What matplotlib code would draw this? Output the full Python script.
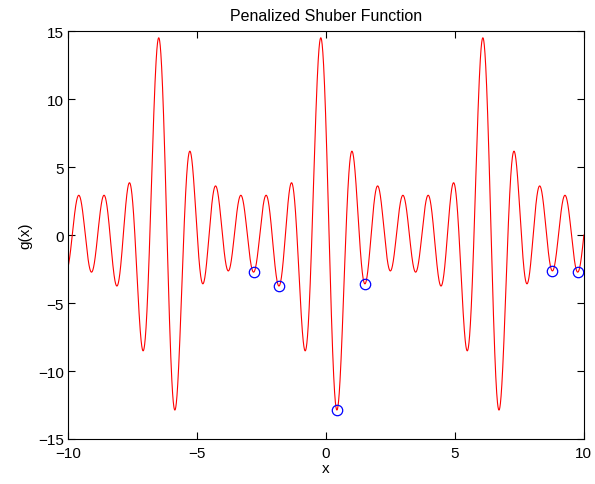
import numpy as np
import matplotlib
matplotlib.use("Agg")
import matplotlib.pyplot as plt

# Shubert-type curve parameters (amplitude i, frequency i+1, phase i), x shifted/mirrored as in figure
amps = [1, 2, 3, 4, 5]
freqs = [2, 3, 4, 5, 6]
phases = [1, 2, 3, 4, 5]
x_shift = 1.0

# located minima (blue circles), x positions
found_x = [-2.83, -1.86, 0.43, 1.51, 8.80, 9.77]

xticks = [-10, -5, 0, 5, 10]
yticks = [-15, -10, -5, 0, 5, 10, 15]


def g(x):
    x = np.asarray(x, dtype=float)
    return sum(a * np.cos(f * (x + x_shift) - p) for a, f, p in zip(amps, freqs, phases))


# snap circles to local minima near the read positions
def snap(x0):
    xs = np.linspace(x0 - 0.2, x0 + 0.2, 2001)
    ys = g(xs)
    return xs[np.argmin(ys)]


found_x = [snap(v) for v in found_x]
found_y = g(found_x)

plt.rcParams['font.family'] = ['Liberation Sans', 'DejaVu Sans']
fig = plt.figure(figsize=(5.95, 4.85), dpi=100)
ax = fig.add_axes([0.1143, 0.0928, 0.867, 0.841])

xx = np.linspace(-10, 10, 4001)
ax.plot(xx, g(xx), color='red', lw=0.8)
ax.plot(found_x, found_y, 'o', mfc='none', mec='blue', ms=7.5, mew=0.9)

ax.set_xlim(-10, 10)
ax.set_ylim(-15, 15)
ax.set_xticks(xticks)
ax.set_yticks(yticks)
ax.set_xticklabels(['\u221210', '\u22125', '0', '5', '10'])
ax.set_yticklabels(['\u221215', '\u221210', '\u22125', '0', '5', '10', '15'])
ax.tick_params(direction='in', top=True, right=True, length=5, width=0.8, labelsize=11)
ax.tick_params(axis='x', pad=5)
ax.tick_params(axis='y', pad=3)
for s in ax.spines.values():
    s.set_linewidth(0.8)
ax.set_xlabel('x', fontsize=11, labelpad=1)
ax.set_ylabel('g(x)', fontsize=11, labelpad=4)
ax.set_title('Penalized Shuber Function', fontsize=11.5, pad=8)

fig.savefig('out.png', dpi=100)
